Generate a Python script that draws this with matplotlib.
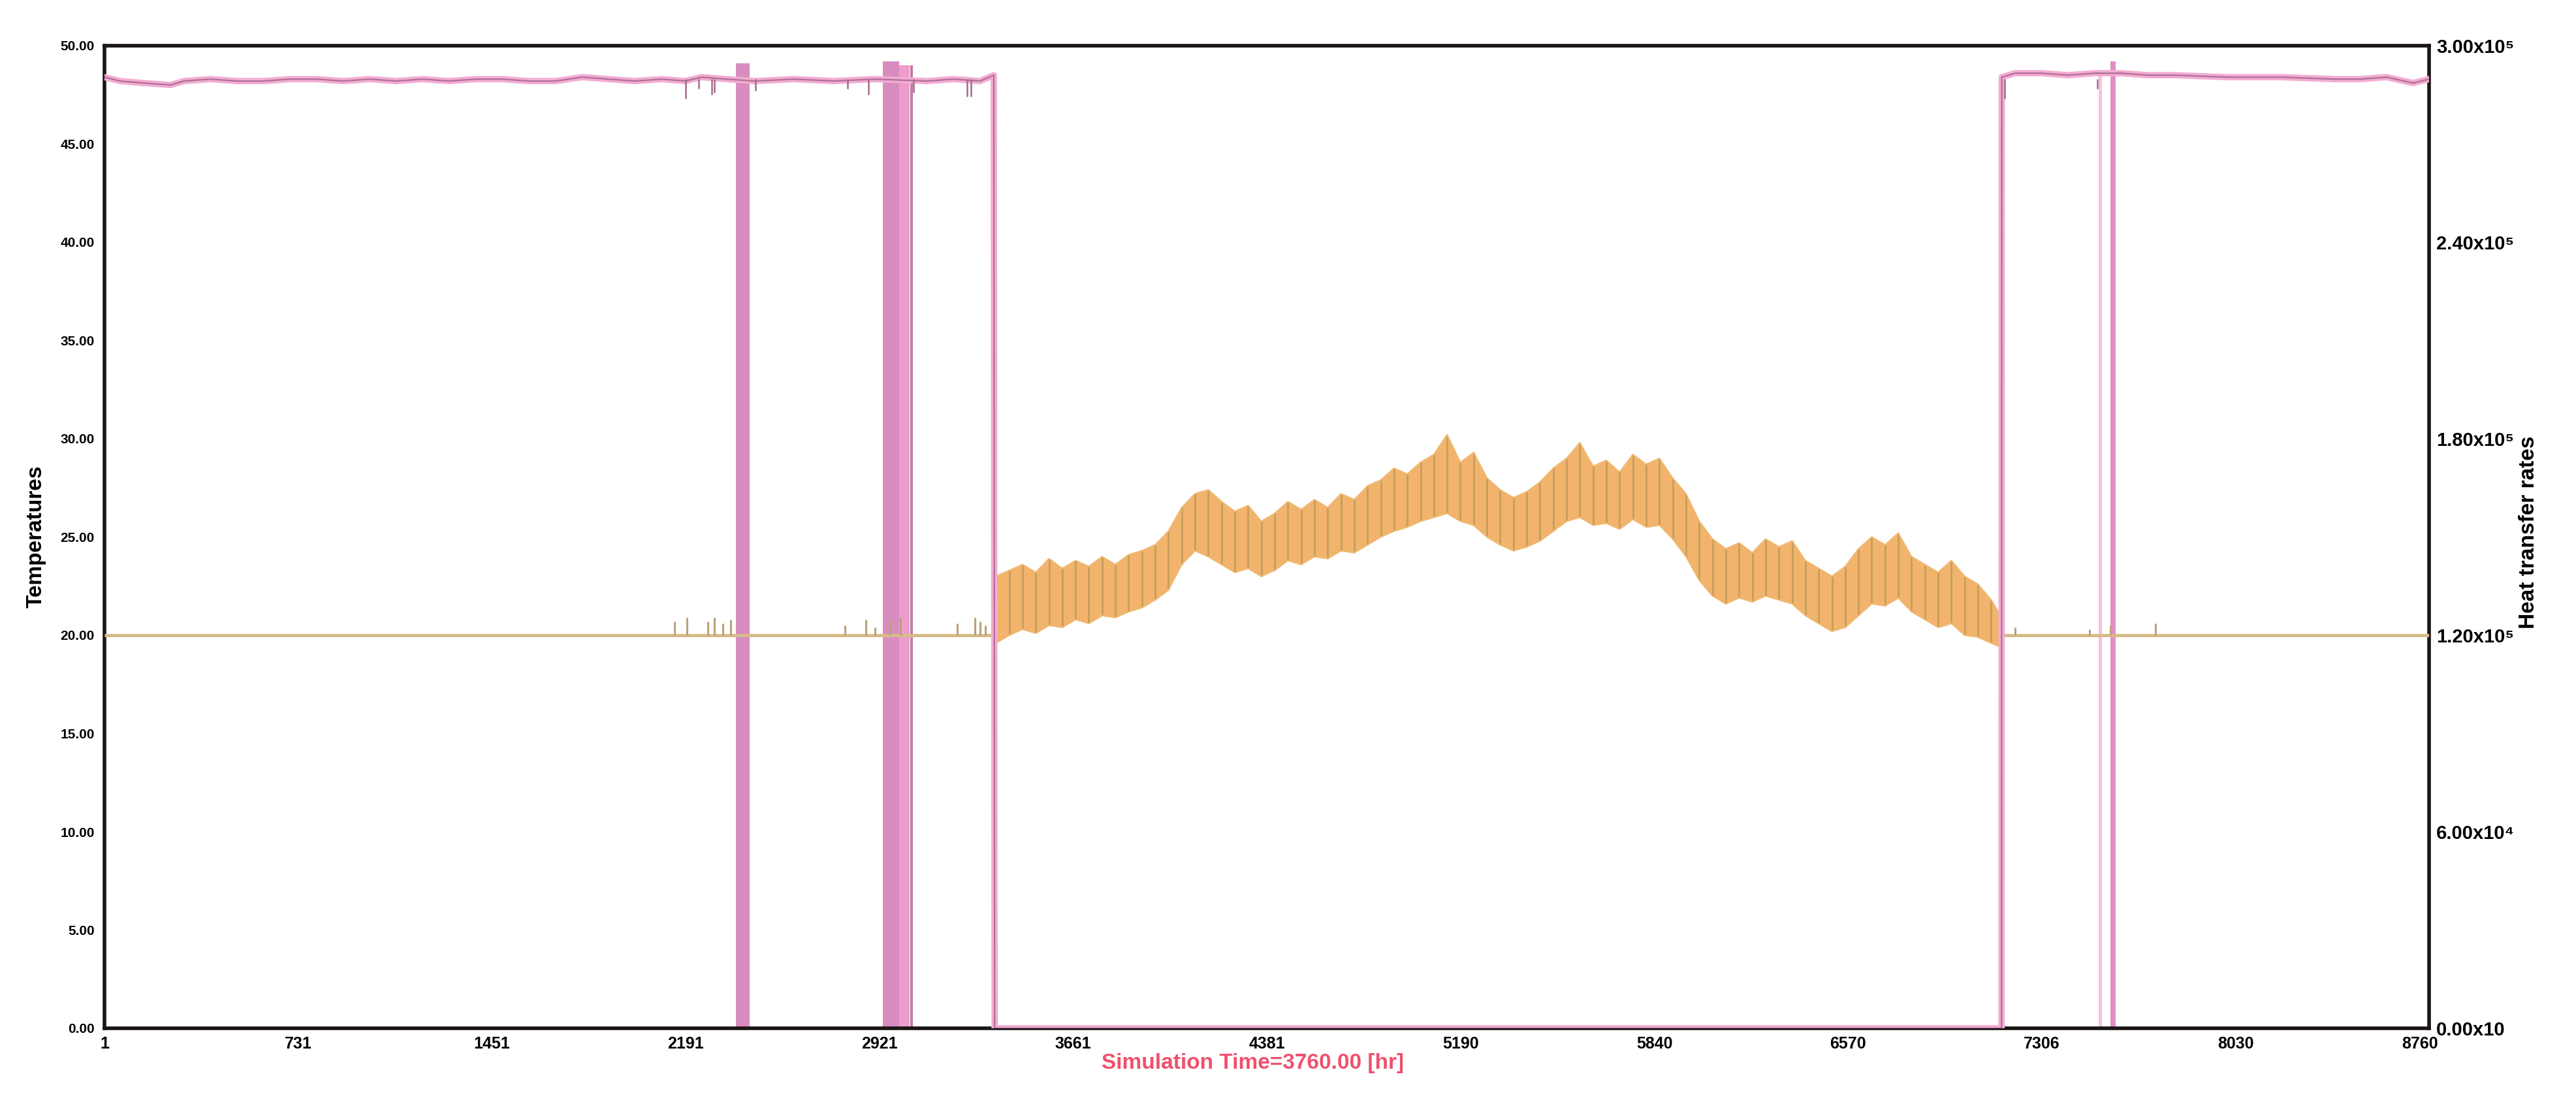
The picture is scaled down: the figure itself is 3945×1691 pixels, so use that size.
import numpy as np
import matplotlib
matplotlib.use("Agg")
import matplotlib.pyplot as plt
from matplotlib.transforms import ScaledTranslation

# x axis (simulation hours)
x_tick_pos = [1, 731, 1461, 2191, 2921, 3651, 4381, 5111, 5841, 6571, 7301, 8031, 8760]
x_tick_lab = ["1", "731", "1451", "2191", "2921", "3661", "4381", "5190", "5840", "6570", "7306", "8030", "8760"]
y_tick_pos = [0, 5, 10, 15, 20, 25, 30, 35, 40, 45, 50]
rate_tick_pos = [0, 60000, 120000, 180000, 240000, 300000]
rate_tick_lab = ["0.00x10", "6.00x10\u2074", "1.20x10\u2075", "1.80x10\u2075", "2.40x10\u2075", "3.00x10\u2075"]

# pink series (upper temperature)
pink_t = [1, 60, 150, 250, 300, 400, 500, 600, 700, 800, 900, 1000, 1100, 1200, 1300,
          1400, 1500, 1600, 1700, 1800, 1900, 2000, 2100, 2190, 2250, 2345, 2450, 2600,
          2750, 2900, 3100, 3200, 3300, 3352, 3355, 7149, 7150, 7200, 7300, 7400, 7500,
          7600, 7700, 7800, 8000, 8200, 8400, 8500, 8600, 8700, 8760]
pink_v = [48.4, 48.2, 48.1, 48.0, 48.2, 48.3, 48.2, 48.2, 48.3, 48.3, 48.2, 48.3, 48.2, 48.3, 48.2,
          48.3, 48.3, 48.2, 48.2, 48.4, 48.3, 48.2, 48.3, 48.2, 48.4, 48.3, 48.2, 48.3,
          48.2, 48.3, 48.2, 48.3, 48.2, 48.5, 0.0, 0.0, 48.4, 48.6, 48.6, 48.5, 48.6,
          48.6, 48.5, 48.5, 48.4, 48.4, 48.3, 48.3, 48.4, 48.1, 48.3]
# short downward dips of the pink line
pink_dip_t = [2190, 2240, 2290, 2300, 2455, 2800, 2880, 3050, 3250, 3265, 7160, 7510]
pink_dip_v = [47.3, 47.8, 47.5, 47.6, 47.7, 47.8, 47.5, 47.6, 47.4, 47.4, 47.3, 47.8]
# on/off cycling periods of the pink series (start, end, top, colour)
band_start = [2380, 2933, 2995, 3038, 7515, 7560]
band_end = [2432, 2995, 3035, 3048, 7528, 7578]
band_top = [49.1, 49.2, 49.0, 49.0, 48.6, 49.2]
band_col = ["#d98cc0", "#d98cc0", "#ee9ccb", "#c07aa6", "#f3c3dd", "#e08fc4"]

# orange series: idle level and short spikes
off_t = [[1, 3355], [7149, 8760]]
off_v = 20.0
spike_t = [2150, 2195, 2275, 2300, 2330, 2360, 2790, 2870, 2905, 2960, 3000, 3215, 3280, 3300, 3320,
           7200, 7480, 7560, 7730]
spike_v = [20.7, 20.9, 20.7, 20.9, 20.6, 20.8, 20.5, 20.8, 20.4, 20.8, 20.9, 20.6, 20.9, 20.7, 20.5,
           20.4, 20.3, 20.5, 20.6]

# orange series active period: daily high / low envelope
env_t = [3360, 3410, 3460, 3510, 3560, 3610, 3660, 3710, 3760, 3810, 3860, 3910, 3960, 4010,
         4060, 4110, 4160, 4210, 4260, 4310, 4360, 4410, 4460, 4510, 4560, 4610, 4660, 4710,
         4760, 4810, 4860, 4910, 4960, 5010, 5060, 5110, 5160, 5210, 5260, 5310, 5360, 5410,
         5460, 5510, 5560, 5610, 5660, 5710, 5760, 5810, 5860, 5910, 5960, 6010, 6060, 6110,
         6160, 6210, 6260, 6310, 6360, 6410, 6460, 6510, 6560, 6610, 6660, 6710, 6760, 6810,
         6860, 6910, 6960, 7010, 7060, 7110, 7145]
env_hi = [23.0, 23.3, 23.6, 23.2, 23.9, 23.4, 23.8, 23.5, 24.0, 23.6, 24.1, 24.3, 24.6, 25.3,
          26.5, 27.2, 27.4, 26.8, 26.3, 26.6, 25.8, 26.2, 26.8, 26.4, 26.9, 26.5, 27.2, 26.9,
          27.6, 27.9, 28.5, 28.2, 28.8, 29.2, 30.2, 28.8, 29.3, 28.0, 27.4, 27.0, 27.3, 27.8,
          28.5, 29.0, 29.8, 28.6, 28.9, 28.3, 29.2, 28.7, 29.0, 28.0, 27.2, 25.8, 24.9, 24.4,
          24.7, 24.2, 24.9, 24.5, 24.8, 23.8, 23.4, 23.0, 23.5, 24.4, 25.0, 24.6, 25.2, 24.0,
          23.6, 23.2, 23.8, 23.0, 22.6, 21.8, 21.0]
env_lo = [19.6, 20.0, 20.3, 20.1, 20.5, 20.4, 20.8, 20.6, 21.0, 20.9, 21.2, 21.4, 21.8, 22.3,
          23.6, 24.3, 24.0, 23.6, 23.2, 23.4, 23.0, 23.3, 23.8, 23.6, 24.0, 23.9, 24.3, 24.2,
          24.6, 25.0, 25.3, 25.5, 25.8, 26.0, 26.2, 25.8, 25.6, 25.0, 24.6, 24.3, 24.5, 24.8,
          25.3, 25.8, 26.0, 25.6, 25.7, 25.4, 25.9, 25.5, 25.6, 24.9, 24.0, 22.8, 22.0, 21.6,
          21.9, 21.7, 22.0, 21.8, 21.6, 21.0, 20.6, 20.2, 20.4, 21.0, 21.6, 21.5, 21.9, 21.2,
          20.8, 20.4, 20.6, 20.0, 19.9, 19.6, 19.4]

narrow = ["Liberation Sans Narrow", "Liberation Sans", "DejaVu Sans"]
plain = ["Liberation Sans", "DejaVu Sans"]

fig = plt.figure(figsize=(39.45, 16.91), dpi=100)
fig.patch.set_facecolor("white")
ax = fig.add_axes([160 / 3945, 116 / 1691, 3560 / 3945, 1505 / 1691])
ax.set_xlim(1, 8760)
ax.set_ylim(0, 50)

for s, e, top, c in zip(band_start, band_end, band_top, band_col):
    ax.fill_between([s, e], 0, top, color=c, lw=0, zorder=2)

for seg in off_t:
    ax.plot(seg, [off_v, off_v], color="#d8bb8a", lw=3.6, zorder=3, solid_capstyle="butt")
ax.vlines(spike_t, off_v, spike_v, color="#b9a27a", lw=2.2, zorder=3)

ax.fill_between(env_t, env_lo, env_hi, color="#f2b46c", lw=0, zorder=3)
ax.vlines(env_t, env_lo, env_hi, color="#c29c5c", lw=2.2, alpha=0.85, zorder=4)
ax.plot(env_t, env_hi, color="#f0b870", lw=1.5, zorder=4)
ax.plot(env_t, env_lo, color="#f0b870", lw=1.5, zorder=4)

ax.plot(pink_t, pink_v, color="#f2acd2", lw=7, zorder=5, solid_joinstyle="round")
ax.plot(pink_t, pink_v, color="#b06e98", lw=1.6, zorder=6)
ax.vlines(pink_dip_t, 48.3, pink_dip_v, color="#a8688f", lw=1.8, zorder=6)

ax.set_xticks(x_tick_pos)
ax.set_xticklabels(x_tick_lab, family=narrow, fontsize=18, fontweight="bold")
ax.set_yticks(y_tick_pos)
ax.set_yticklabels(["%.2f" % v for v in y_tick_pos], family=plain, fontsize=15, fontweight="bold")
ax.tick_params(axis="x", length=0, pad=9)
ax.tick_params(axis="y", length=0, pad=11)
# last x label sits just left of the right-axis zero label
last = ax.get_xticklabels()[-1]
last.set_transform(last.get_transform() + ScaledTranslation(-14 / 100, 0, fig.dpi_scale_trans))
for sp in ax.spines.values():
    sp.set_linewidth(4)
    sp.set_color("#1a1514")

ax2 = ax.twinx()
ax2.set_ylim(0, 300000)
ax2.set_yticks(rate_tick_pos)
ax2.set_yticklabels(rate_tick_lab, family=narrow, fontsize=21, fontweight="bold")
ax2.tick_params(axis="y", length=0, pad=8)
for sp in ax2.spines.values():
    sp.set_visible(False)

fig.text(55 / 3945, 1 - 822 / 1691, "Temperatures", rotation=90, ha="center", va="center",
         family=plain, fontsize=24, fontweight="bold")
fig.text(3872 / 3945, 1 - 815 / 1691, "Heat transfer rates", rotation=90, ha="center", va="center",
         family=plain, fontsize=24, fontweight="bold")
fig.text(1918 / 3945, 1 - 1628 / 1691, "Simulation Time=3760.00 [hr]", ha="center", va="center",
         family=narrow, fontsize=24, fontweight="bold", color="#f0506e")

fig.savefig("out.png", dpi=100, facecolor="white")
